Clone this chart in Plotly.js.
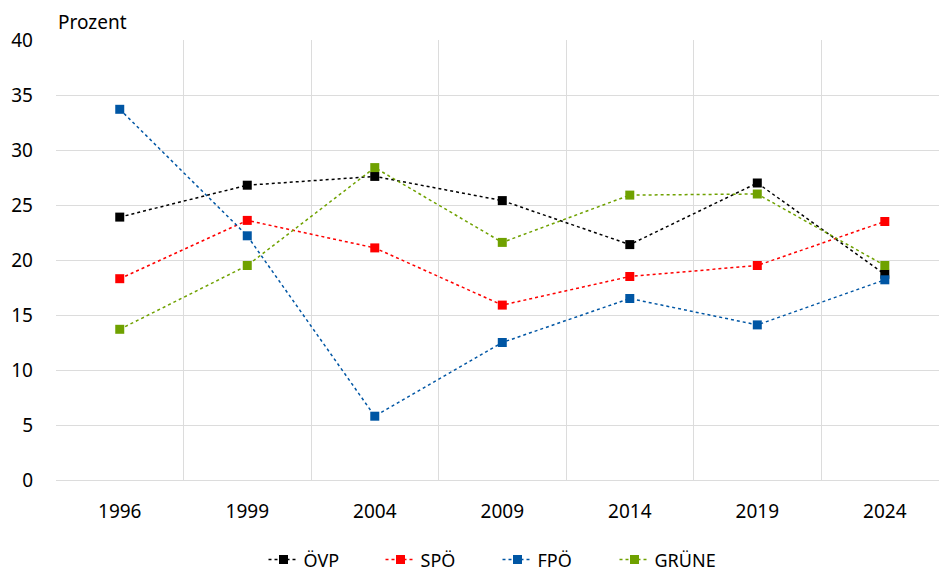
<!DOCTYPE html>
<html>
<head>
<meta charset="utf-8">
<script src="https://cdn.plot.ly/plotly-3.0.1.min.js"></script>
<style>body{margin:0;background:#fff}#chart{width:939px;height:569px}</style>
</head>
<body>
<div id="chart"></div>
<script>
var years = ['1996', '1999', '2004', '2009', '2014', '2019', '2024'];
var oevp = [23.9, 26.8, 27.6, 25.4, 21.4, 27.0, 18.7];
var spoe = [18.3, 23.6, 21.1, 15.9, 18.5, 19.5, 23.5];
var fpoe = [33.7, 22.2, 5.8, 12.5, 16.5, 14.1, 18.2];
var gruene = [13.7, 19.5, 28.4, 21.6, 25.9, 26.0, 19.5];

function line(name, y, color) {
    return {
        type: 'scatter',
        mode: 'lines+markers',
        name: name,
        x: years,
        y: y,
        line: { color: color, width: 1.5, dash: 'dot' },
        marker: { color: color, symbol: 'square', size: 9 }
    };
}

var data = [
    line('ÖVP', oevp, '#000000'),
    line('SPÖ', spoe, '#ff0000'),
    line('FPÖ', fpoe, '#0056a4'),
    line('GRÜNE', gruene, '#6fa100')
];

var layout = {
    width: 939,
    height: 569,
    margin: { l: 56, r: 0, t: 40, b: 89 },
    font: { family: 'Noto Sans, sans-serif', size: 19, color: '#000' },
    plot_bgcolor: '#fff',
    paper_bgcolor: '#fff',
    showlegend: true,
    legend: {
        orientation: 'h',
        x: 0.5,
        xanchor: 'center',
        yref: 'container',
        y: 0.016,
        yanchor: 'middle',
        font: { size: 18 },
        entrywidth: 72,
        entrywidthmode: 'pixels'
    },
    xaxis: {
        type: 'category',
        range: [-0.5, 6.425],
        tickson: 'boundaries',
        showgrid: true,
        gridcolor: '#dcdcdc',
        gridwidth: 1,
        ticks: '',
        ticklabelstandoff: 18,
        zeroline: false,
        showline: false,
        fixedrange: true
    },
    yaxis: {
        range: [0, 40],
        dtick: 5,
        showgrid: true,
        gridcolor: '#dcdcdc',
        gridwidth: 1,
        ticks: '',
        ticklabelstandoff: 22,
        zeroline: true,
        zerolinecolor: '#dcdcdc',
        zerolinewidth: 1,
        showline: false,
        fixedrange: true
    },
    annotations: [{
        text: 'Prozent',
        xref: 'paper',
        yref: 'paper',
        x: 0,
        y: 1,
        xanchor: 'left',
        yanchor: 'bottom',
        yshift: 3,
        showarrow: false,
        font: { size: 19 }
    }]
};

Plotly.newPlot('chart', data, layout, { displayModeBar: false, staticPlot: true });
</script>
</body>
</html>
